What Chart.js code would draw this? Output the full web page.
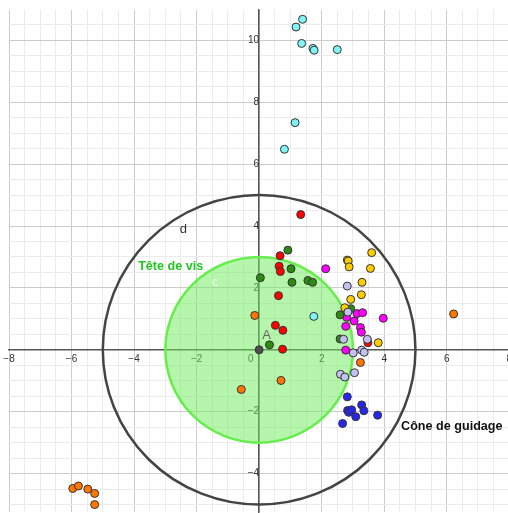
<!DOCTYPE html>
<html>
<head>
<meta charset="utf-8">
<script src="https://cdn.jsdelivr.net/npm/chart.js@4.4.1/dist/chart.umd.min.js"></script>
<style>
  body { margin: 0; background: #fff; }
  #cadre { width: 508px; height: 513px; }
</style>
</head>
<body>
<div id="cadre"><canvas id="grafica_vis"></canvas></div>
<script>
/*-----Données-----*/

// points [x, y] par couleur
const pointsLavande = [[2.82,2.06],[2.84,1.22],[2.70,0.34],[3.46,0.34],[3.01,-0.10],[3.28,-0.01],[3.36,-0.08],
                       [2.60,-0.79],[2.74,-0.88],[3.05,-0.74]];
const pointsJaune = [[3.60,3.14],[2.82,2.90],[2.85,2.87],[2.88,2.68],[3.56,2.63],[3.29,2.18],[3.27,1.78],
                     [2.93,1.63],[2.74,1.36],[3.81,0.23]];
const pointsVert = [[0.92,3.22],[1.02,2.62],[0.04,2.33],[1.05,2.18],[1.56,2.24],[1.71,2.18],
                    [2.93,1.33],[2.59,1.13],[2.59,0.35],[0.33,0.16]];
const pointsMagenta = [[2.13,2.62],[2.80,1.05],[3.04,0.93],[3.13,1.17],[3.31,1.20],[3.97,1.02],
                       [2.77,0.76],[3.24,0.72],[3.27,0.57],[2.77,-0.01]];
const pointsRouge = [[1.33,4.37],[0.67,3.04],[0.64,2.70],[0.68,2.53],[0.62,1.75],[0.52,0.79],
                     [0.76,0.63],[0.75,0.02],[3.48,0.23]];
const pointsBleu = [[2.82,-1.52],[3.28,-1.78],[3.35,-1.97],[2.83,-1.96],[2.87,-2.02],[2.96,-1.94],
                    [3.09,-2.16],[3.79,-2.11],[2.67,-2.38]];
const pointsOrange = [[-0.14,1.11],[6.22,1.16],[3.24,-0.41],[0.70,-0.99],[-0.57,-1.28],
                      [-5.96,-4.48],[-5.78,-4.40],[-5.48,-4.50],[-5.26,-4.64],[-5.26,-5.00]];
const pointsCyan = [[1.39,10.68],[1.18,10.43],[1.36,9.90],[1.72,9.74],[1.76,9.68],[2.50,9.70],
                    [1.15,7.34],[0.81,6.48],[1.75,1.08]];
const pointA = [[0, 0]];

// cercles [cx, cy, r]
const cercleD = [0, 0, 5];
const cercleC = [0, 0, 3];

// graduations
const ticksX = [-8, -6, -4, -2, 0, 2, 4, 6, 8];
const ticksY = [-4, -2, 2, 4, 6, 8, 10];

// textes et positions
const textes = ['Tête de vis', 'Cône de guidage', 'd', 'c', 'A'];
const textesPos = [[-3.87, 2.68], [4.54, -2.48], [-2.42, 3.89], [-1.41, 2.17], [0.24, 0.45]];

/*-----Gráfica-----*/

const series = [
  {pts: pointsLavande, couleur: '#c2c2f2'},
  {pts: pointsJaune, couleur: '#ffcc00'},
  {pts: pointsVert, couleur: '#2e8a14'},
  {pts: pointsMagenta, couleur: '#ff00ff'},
  {pts: pointsRouge, couleur: '#ff0000'},
  {pts: pointsBleu, couleur: '#2626ee'},
  {pts: pointsOrange, couleur: '#ff7700'},
  {pts: pointsCyan, couleur: '#7ff5f5'},
  {pts: pointA, couleur: '#4d4d4d'}
];

function fmt(v) {
  return v < 0 ? '\u2212' + (-v) : String(v);
}

function grille(scale, min, max) {
  const t = [];
  for (let v = min; v <= max + 1e-9; v += 0.5) t.push({value: Math.round(v * 2) / 2});
  scale.ticks = t;
}

function sansPadding(scale) {
  scale.paddingLeft = 0; scale.paddingRight = 0;
  scale.paddingTop = 0; scale.paddingBottom = 0;
}

const couleurGrille = ctx => (ctx.tick && ctx.tick.value % 2 === 0) ? '#cccccc' : '#ebebeb';

const dessins = {
  id: 'dessins',
  beforeDatasetsDraw(chart) {
    const {ctx, scales: {x, y}} = chart;
    const ellipse = (c) => {
      const px = x.getPixelForValue(c[0]), py = y.getPixelForValue(c[1]);
      const rx = x.getPixelForValue(c[0] + c[2]) - px;
      const ry = py - y.getPixelForValue(c[1] + c[2]);
      ctx.beginPath();
      ctx.ellipse(px, py, rx, ry, 0, 0, Math.PI * 2);
    };
    ctx.save();
    ellipse(cercleC);
    ctx.fillStyle = 'rgba(110,235,90,0.5)';
    ctx.fill();
    ctx.lineWidth = 2.5;
    ctx.strokeStyle = '#66ee4c';
    ctx.stroke();
    ellipse(cercleD);
    ctx.lineWidth = 2.5;
    ctx.strokeStyle = '#444444';
    ctx.stroke();
    ctx.restore();
  },
  afterDatasetsDraw(chart) {
    const {ctx, scales: {x, y}} = chart;
    const styles = [
      ['bold 12.6px "Liberation Sans"', '#22c522', 'left'],
      ['bold 12.6px "Liberation Sans"', '#111111', 'left'],
      ['13px "Liberation Sans"', '#333333', 'center'],
      ['12px "Liberation Sans"', '#e8ffe4', 'center'],
      ['13px "Liberation Sans"', '#666666', 'center']
    ];
    ctx.save();
    ctx.textBaseline = 'middle';
    textes.forEach((t, i) => {
      ctx.font = styles[i][0];
      ctx.fillStyle = styles[i][1];
      ctx.textAlign = styles[i][2];
      ctx.fillText(t, x.getPixelForValue(textesPos[i][0]), y.getPixelForValue(textesPos[i][1]));
    });
    ctx.restore();
  }
};

const grafica_vis = document.getElementById('grafica_vis');

new Chart(grafica_vis, {
  type: 'scatter',
  data: {
    datasets: series.map(s => ({
      data: s.pts.map(p => ({x: p[0], y: p[1]})),
      backgroundColor: s.couleur,
      borderColor: '#333333',
      borderWidth: 1,
      pointRadius: 4,
      pointHoverRadius: 4
    }))
  },
  options: {
    animation: false,
    responsive: true,
    maintainAspectRatio: false,
    layout: {autoPadding: false, padding: {left: 9, top: 10, right: 0, bottom: 1}},
    scales: {
      x: {
        type: 'linear',
        min: -8,
        max: 7.96,
        position: {y: 0},
        afterBuildTicks: s => grille(s, -8, 8),
        afterFit: sansPadding,
        grid: {color: couleurGrille, lineWidth: 1, drawTicks: false},
        border: {color: '#555555', width: 1.5},
        ticks: {
          autoSkip: false,
          maxRotation: 0,
          padding: 3,
          color: '#333333',
          font: {family: 'Liberation Sans', size: 10},
          callback: v => v === 0 ? '0\u2007\u2007\u2007' : (ticksX.includes(v) ? fmt(v) : '')
        }
      },
      y: {
        type: 'linear',
        min: -5.24,
        max: 10.98,
        position: {x: 0},
        afterBuildTicks: s => grille(s, -5, 10.5),
        afterFit: sansPadding,
        grid: {color: couleurGrille, lineWidth: 1, drawTicks: false},
        border: {color: '#555555', width: 1.5},
        ticks: {
          autoSkip: false,
          padding: 5,
          color: '#333333',
          font: {family: 'Liberation Sans', size: 10},
          callback: v => ticksY.includes(v) ? fmt(v) : ''
        }
      }
    },
    plugins: {
      legend: {display: false},
      tooltip: {enabled: false}
    }
  },
  plugins: [dessins]
});
</script>
</body>
</html>
